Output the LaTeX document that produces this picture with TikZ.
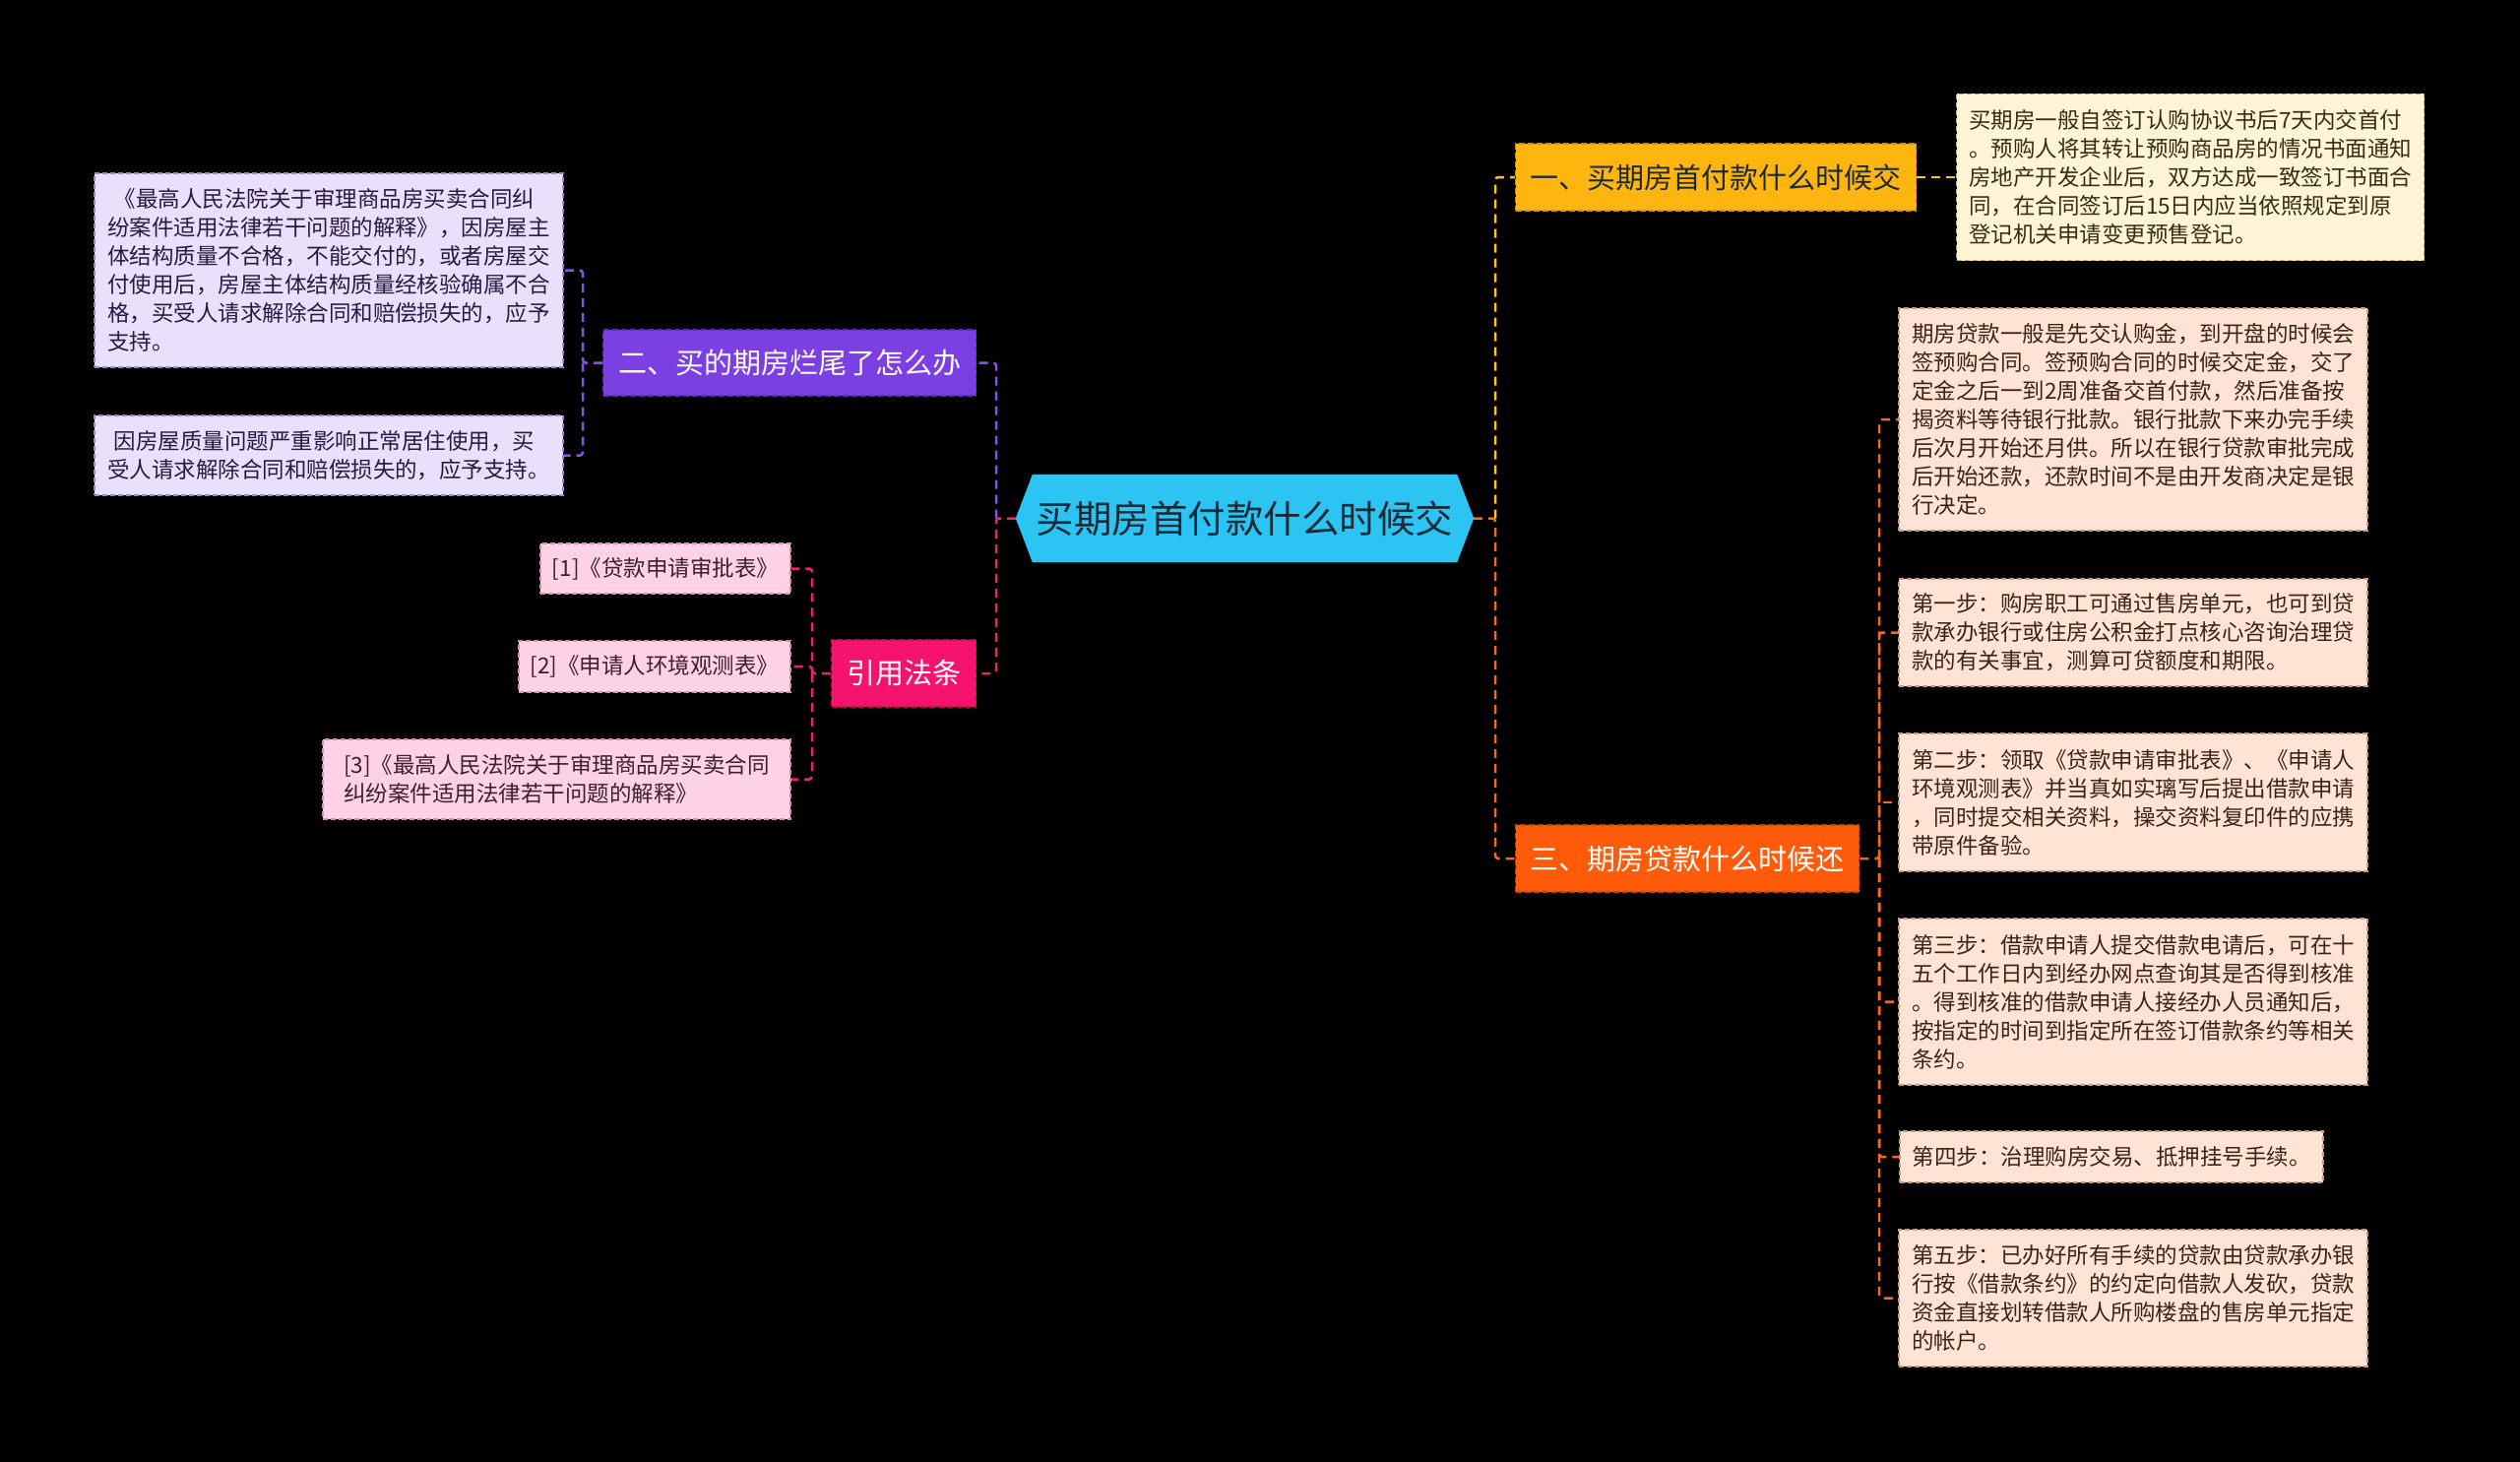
\documentclass[tikz,border=0pt]{standalone}
\usepackage{fontspec}
\setmainfont{Noto Sans CJK SC}
\usetikzlibrary{backgrounds}
\definecolor{cyanf}{HTML}{2CC4F3}
\definecolor{ctext}{HTML}{1A2A36}
\definecolor{yelf}{HTML}{FFB50F}
\definecolor{yeld}{HTML}{D69200}
\definecolor{yell}{HTML}{FFC21A}
\definecolor{purf}{HTML}{7B3FE4}
\definecolor{purd}{HTML}{5E2CB8}
\definecolor{purl}{HTML}{8A4FF0}
\definecolor{pinf}{HTML}{F5136E}
\definecolor{pind}{HTML}{C00A52}
\definecolor{pinl}{HTML}{E8246F}
\definecolor{oraf}{HTML}{FF5B0A}
\definecolor{orad}{HTML}{C84200}
\definecolor{oral}{HTML}{F26A22}
\definecolor{creamf}{HTML}{FFF4D6}
\definecolor{creamd}{HTML}{C9A968}
\definecolor{creamt}{HTML}{3A2A10}
\definecolor{lavf}{HTML}{E9E0FB}
\definecolor{lavd}{HTML}{9C86D0}
\definecolor{lavt}{HTML}{2A1A40}
\definecolor{pkf}{HTML}{FFD1E6}
\definecolor{pkd}{HTML}{D890B0}
\definecolor{pkt}{HTML}{3A2030}
\definecolor{pchf}{HTML}{FFE3D4}
\definecolor{pchd}{HTML}{C99A80}
\definecolor{pcht}{HTML}{3A2418}
\begin{document}
\begin{tikzpicture}[x=1pt,y=-1pt,
  leafbase/.style={rectangle, draw, dash pattern=on 5pt off 3pt, line width=1.5pt, inner sep=0pt, align=left, font=\fontsize{22.5}{29}\selectfont},
  leafy/.style={leafbase, fill=creamf, draw=creamd, text=creamt},
  leafv/.style={leafbase, fill=lavf, draw=lavd, text=lavt},
  leafp/.style={leafbase, fill=pkf, draw=pkd, text=pkt},
  leafo/.style={leafbase, fill=pchf, draw=pchd, text=pcht},
  branch/.style={rectangle, draw, dash pattern=on 6pt off 3pt, line width=1.5pt, inner sep=0pt, font=\fontsize{29}{34}\selectfont, text=white},
  conn/.style={line width=2.5pt, dash pattern=on 9pt off 6pt, rounded corners=3pt}
]
\useasboundingbox (0,0) rectangle (2560,1485);
% center
\node[inner sep=0pt, minimum width=465pt, minimum height=89pt, text=ctext, font=\fontsize{38.5}{44}\selectfont] (c) at (1264.5,526.5) {买期房首付款什么时候交};
% branches
\node[branch, fill=yelf, draw=yeld, text=ctext, minimum width=407pt, minimum height=68pt] (b1) at (1743,180) {一、买期房首付款什么时候交};
\node[branch, fill=purf, draw=purd, minimum width=379pt, minimum height=67pt] (b2) at (802,368.5) {二、买的期房烂尾了怎么办};
\node[branch, fill=pinf, draw=pind, minimum width=147pt, minimum height=68pt] (bq) at (918,684) {引用法条};
\node[branch, fill=oraf, draw=orad, minimum width=349pt, minimum height=68pt] (b3) at (1714,872) {三、期房贷款什么时候还};
% leaves
\node[leafy, minimum width=475pt, minimum height=169pt] (l1) at (2225,180) {买期房一般自签订认购协议书后7天内交首付\\。预购人将其转让预购商品房的情况书面通知\\房地产开发企业后，双方达成一致签订书面合\\同，在合同签订后15日内应当依照规定到原\\登记机关申请变更预售登记。};
\node[leafv, minimum width=476pt, minimum height=197pt] (la1) at (334,274.5) {\hspace*{0.3em}《最高人民法院关于审理商品房买卖合同纠\\纷案件适用法律若干问题的解释》，因房屋主\\体结构质量不合格，不能交付的，或者房屋交\\付使用后，房屋主体结构质量经核验确属不合\\格，买受人请求解除合同和赔偿损失的，应予\\支持。};
\node[leafv, minimum width=476pt, minimum height=81pt] (la2) at (334,462.5) {\hspace*{0.3em}因房屋质量问题严重影响正常居住使用，买\\受人请求解除合同和赔偿损失的，应予支持。};
\node[leafp, minimum width=254pt, minimum height=51pt] (q1) at (676,577.5) {[1]《贷款申请审批表》};
\node[leafp, minimum width=276pt, minimum height=52pt] (q2) at (665,677) {[2]《申请人环境观测表》};
\node[leafp, minimum width=475pt, minimum height=81pt] (q3) at (565.5,791.5) {[3]《最高人民法院关于审理商品房买卖合同\\纠纷案件适用法律若干问题的解释》};
\node[leafo, minimum width=476pt, minimum height=226pt] (r1) at (2167,426) {期房贷款一般是先交认购金，到开盘的时候会\\签预购合同。签预购合同的时候交定金，交了\\定金之后一到2周准备交首付款，然后准备按\\揭资料等待银行批款。银行批款下来办完手续\\后次月开始还月供。所以在银行贷款审批完成\\后开始还款，还款时间不是由开发商决定是银\\行决定。};
\node[leafo, minimum width=476pt, minimum height=109pt] (r2) at (2167,642.5) {第一步：购房职工可通过售房单元，也可到贷\\款承办银行或住房公积金打点核心咨询治理贷\\款的有关事宜，测算可贷额度和期限。};
\node[leafo, minimum width=476pt, minimum height=140pt] (r3) at (2167,815) {第二步：领取《贷款申请审批表》、《申请人\\环境观测表》并当真如实璃写后提出借款申请\\，同时提交相关资料，操交资料复印件的应携\\带原件备验。};
\node[leafo, minimum width=476pt, minimum height=169pt] (r4) at (2167,1017.5) {第三步：借款申请人提交借款电请后，可在十\\五个工作日内到经办网点查询其是否得到核准\\。得到核准的借款申请人接经办人员通知后，\\按指定的时间到指定所在签订借款条约等相关\\条约。};
\node[leafo, minimum width=430pt, minimum height=52pt] (r5) at (2145,1175) {第四步：治理购房交易、抵押挂号手续。};
\node[leafo, minimum width=476pt, minimum height=139pt] (r6) at (2167,1318.5) {第五步：已办好所有手续的贷款由贷款承办银\\行按《借款条约》的约定向借款人发砍，贷款\\资金直接划转借款人所购楼盘的售房单元指定\\的帐户。};
% background and hexagon
\begin{pgfonlayer}{background}
\fill[black] (0,0) rectangle (2560,1485);
\fill[cyanf] ([xshift=17pt]c.north west) -- ([xshift=-17pt]c.north east) -- (c.east) -- ([xshift=-17pt]c.south east) -- ([xshift=17pt]c.south west) -- (c.west) -- cycle;
\end{pgfonlayer}
% junctions
\coordinate (jr) at (1519,526.5);
\coordinate (jl) at (1012,526.5);
\coordinate (j2) at (592,368.5);
\coordinate (jq) at (825,684);
\coordinate (j3) at (1909,872);
% connectors
\draw[conn, oral] (c.east) -- (jr) |- (b3.west);
\draw[conn, yell] (jr) |- (b1.west);
\draw[conn, pinl] (c.west) -- (jl) |- (bq.east);
\draw[conn, purl] (jl) |- (b2.east);
\draw[conn, yell] (b1.east) -- (l1.west);
\draw[conn, purl] (b2.west) -- (j2) |- (la1.east);
\draw[conn, purl] (j2) |- (la2.east);
\draw[conn, pinl] (bq.west) -- (jq) |- (q1.east);
\draw[conn, pinl] (jq) |- (q2.east);
\draw[conn, pinl] (jq) |- (q3.east);
\draw[conn, oral] (b3.east) -- (j3) |- (r1.west);
\draw[conn, oral] (j3) |- (r2.west);
\draw[conn, oral] (j3) |- (r3.west);
\draw[conn, oral] (j3) |- (r4.west);
\draw[conn, oral] (j3) |- (r5.west);
\draw[conn, oral] (j3) |- (r6.west);
\end{tikzpicture}
\end{document}
